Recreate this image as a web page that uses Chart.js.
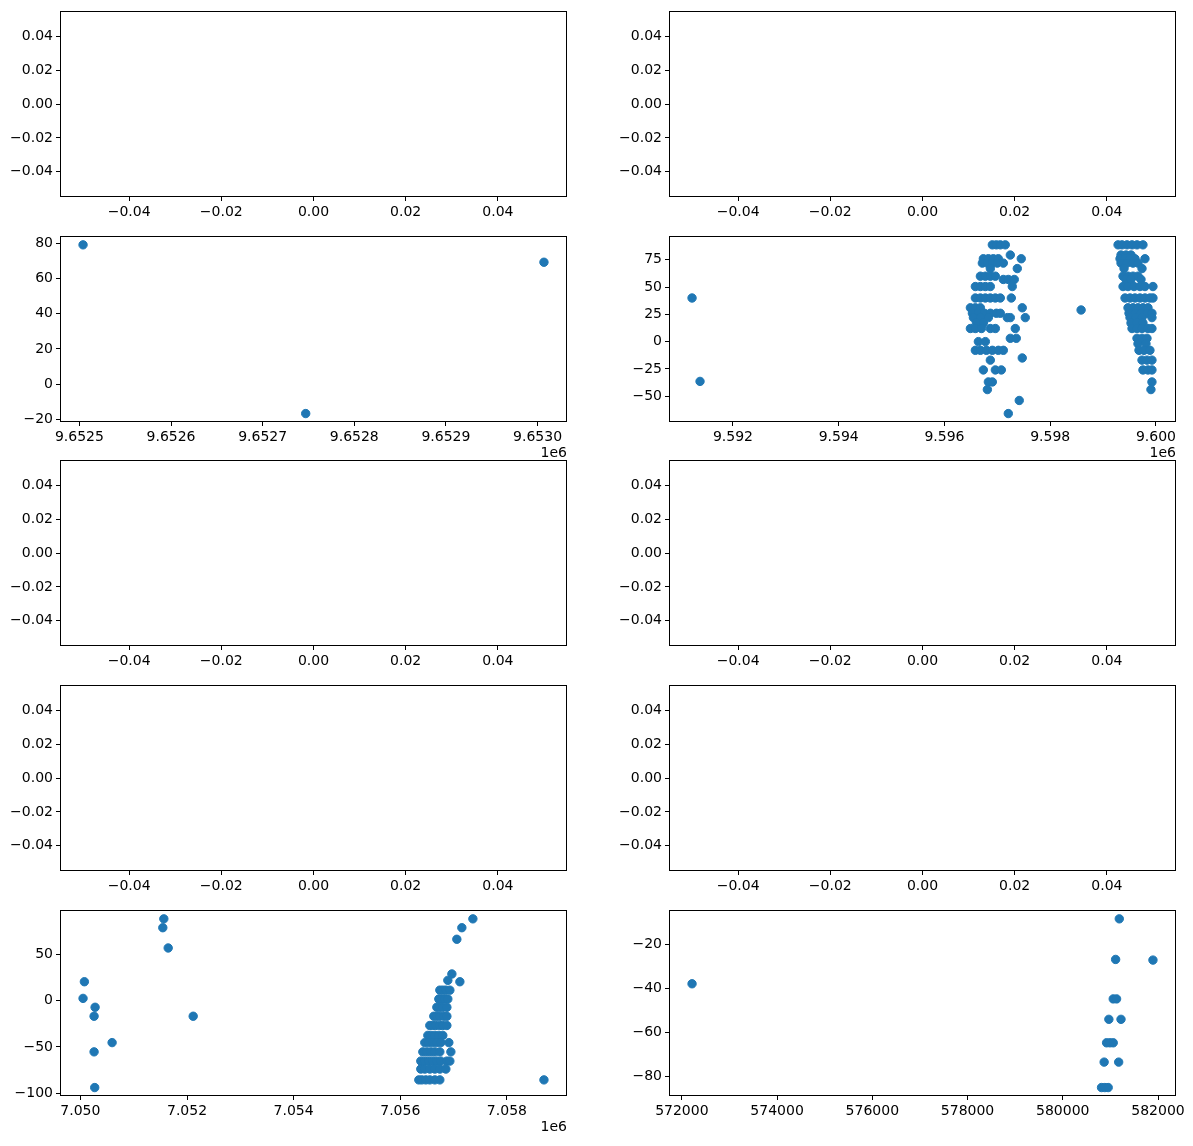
<!DOCTYPE html>
<html><head><meta charset="utf-8">
<script src="https://cdn.jsdelivr.net/npm/chart.js@4.4.0/dist/chart.umd.min.js"></script>
<style>
html,body{margin:0;padding:0;background:#fff;}
#fig{position:relative;width:1193px;height:1146px;overflow:hidden;background:#fff;}
canvas{position:absolute;}
</style></head><body><div id="fig"></div>
<script>
// ---------- data ----------
const emptyTicks = [-0.04, -0.02, 0, 0.02, 0.04];
const emptyLimits = [-0.055, 0.055];

// row 2, left panel
const p3X = [9652504, 9652747, 9653007];
const p3Y = [79.2, -16.8, 69.3];
const p3XTicks = [9652500, 9652600, 9652700, 9652800, 9652900, 9653000];
const p3YTicks = [-20, 0, 20, 40, 60, 80];

// row 2, right panel: [latitude-like y, list of x]
const p4Rows = [
  [88.75, [9596906, 9596982, 9597057, 9597151, 9599284, 9599359, 9599453, 9599548, 9599642, 9599755]],
  [79.4, [9597246, 9599340, 9599435, 9599529]],
  [76, [9596736, 9596831, 9596925, 9597019, 9597453, 9599321, 9599416, 9599510, 9599604, 9599793]],
  [72, [9596717, 9596812, 9596906, 9597000, 9597114, 9599340, 9599453, 9599567, 9599661]],
  [67, [9596868, 9597378, 9599397, 9599737]],
  [60, [9596680, 9596774, 9596868, 9596963, 9599378, 9599472, 9599567, 9599661]],
  [57, [9597114, 9597208, 9597321, 9599435, 9599529, 9599718]],
  [50.5, [9596585, 9596680, 9596774, 9596868, 9597283, 9599378, 9599472, 9599586, 9599699, 9599793, 9599944]],
  [40, [9596585, 9596680, 9596774, 9596868, 9596963, 9597057, 9597265, 9599416, 9599510, 9599604, 9599699, 9599793, 9599887, 9599944]],
  [31, [9596491, 9596585, 9596680, 9597472, 9599472, 9599567, 9599661, 9599755, 9599850]],
  [26, [9596529, 9596642, 9596755, 9596868, 9596982, 9597057, 9599491, 9599604, 9599718, 9599831, 9599925]],
  [22, [9596548, 9596680, 9596831, 9597189, 9597246, 9597529, 9599510, 9599623, 9599737, 9599925]],
  [17, [9596604, 9596736, 9599529, 9599642, 9599755]],
  [12, [9596491, 9596585, 9596699, 9596868, 9596963, 9597340, 9599548, 9599642, 9599737, 9599850, 9599925]],
  [3, [9597246, 9597359, 9599642, 9599737, 9599831]],
  [0, [9596642, 9596774]],
  [-2, [9599661, 9599812]],
  [-8, [9596585, 9596680, 9596793, 9596906, 9597019, 9597114, 9599680, 9599774, 9599887]],
  [-15, [9597472]],
  [-17, [9596868, 9599737, 9599831, 9599925]],
  [-26, [9596736, 9596963, 9597076, 9599755, 9599850, 9599925]],
  [-37, [9596831, 9596906, 9599925]],
  [-44, [9596812, 9599906]],
  [-54, [9597415]],
  [-66, [9597208]]
];
const p4ExtraX = [9591226, 9591377, 9598585];
const p4ExtraY = [40, -36.5, 29];
const p4XTicks = [9592000, 9594000, 9596000, 9598000, 9600000];
const p4YTicks = [-50, -25, 0, 25, 50, 75];

// row 5, left panel
const p9Rows = [
  [88.5, [7051565, 7057362]],
  [78.9, [7051546, 7057155]],
  [66.4, [7057061]],
  [57, [7051647]],
  [28.9, [7056968]],
  [22, [7056892]],
  [20.5, [7050075, 7057118]],
  [11.4, [7056742, 7056798, 7056855, 7056930]],
  [2.5, [7050050]],
  [1.8, [7056723, 7056780, 7056836, 7056892]],
  [-7.1, [7050276, 7056686, 7056742, 7056798, 7056874]],
  [-16.8, [7050257, 7052116, 7056629, 7056686, 7056742, 7056817, 7056874]],
  [-26.8, [7056554, 7056611, 7056667, 7056742, 7056798, 7056874]],
  [-37.5, [7056517, 7056573, 7056648, 7056723, 7056798]],
  [-45.3, [7050595, 7056460, 7056535, 7056611, 7056686, 7056761, 7056911]],
  [-55.3, [7050257, 7056423, 7056498, 7056573, 7056648, 7056742, 7056949]],
  [-65.3, [7056385, 7056460, 7056535, 7056611, 7056686, 7056761, 7056874, 7056930]],
  [-73.9, [7056385, 7056460, 7056554, 7056648, 7056742, 7056855]],
  [-85.6, [7056348, 7056404, 7056479, 7056554, 7056648, 7056742, 7058695]],
  [-93.9, [7050269]]
];
const p9XTicks = [7050000, 7052000, 7054000, 7056000, 7058000];
const p9YTicks = [-100, -50, 0, 50];

// row 5, right panel
const p10X = [581187, 581110, 581894, 572214, 581060, 581130, 580968, 581223, 580920, 580990, 581060, 580869, 581174, 580814, 580884, 580954];
const p10Y = [-8.3, -26.8, -27.1, -37.9, -44.8, -44.8, -54.1, -54.1, -64.8, -64.8, -64.8, -73.6, -73.6, -85.2, -85.2, -85.2];
const p10XTicks = [572000, 574000, 576000, 578000, 580000, 582000];
const p10YTicks = [-80, -60, -40, -20];

const offsetLabel = '1e6';

// ---------- helpers ----------
const BLUE = '#1f77b4';
const FONT = {family: 'DejaVu Sans', size: 14};
const COL_LEFT = [60, 669];
const ROW_TOP = [10, 235, 459, 684, 909];
const AX_W = 507, AX_H = 187;
const PAD_L = 60, PAD_T = 10, PAD_R = 25, PAD_B = 50;

const minus = s => String(s).replace('-', '\u2212');
const pairs = (xs, ys) => xs.map((x, i) => ({x: x, y: ys[i]}));
const fromRows = rows => rows.flatMap(r => r[1].map(x => ({x: x, y: r[0]})));
function autoLim(vals) {
  const mn = Math.min(...vals), mx = Math.max(...vals), r = mx - mn;
  return [mn - 0.05 * r, mx + 0.05 * r];
}

const spinePlugin = {
  id: 'spines',
  afterDraw(chart, args, opts) {
    const ca = chart.chartArea, ctx = chart.ctx;
    ctx.save();
    ctx.strokeStyle = '#000';
    ctx.lineWidth = 1;
    ctx.strokeRect(Math.round(ca.left) + 0.5, Math.round(ca.top) + 0.5,
      Math.round(ca.right) - Math.round(ca.left) - 1, Math.round(ca.bottom) - Math.round(ca.top) - 1);
    if (opts && opts.offset) {
      ctx.fillStyle = '#000';
      ctx.font = '14px "DejaVu Sans"';
      ctx.textAlign = 'right';
      ctx.textBaseline = 'middle';
      ctx.fillText(opts.offset, ca.right, ca.bottom + 31);
    }
    ctx.restore();
  }
};

function axisOpts(axis, lim, ticks, fmt) {
  return {
    type: 'linear', position: axis === 'x' ? 'bottom' : 'left',
    min: lim[0], max: lim[1],
    grid: {display: true, drawOnChartArea: false, drawTicks: true, tickLength: 4, tickColor: '#000', tickWidth: 1},
    border: {display: false},
    ticks: {color: '#000', font: FONT, padding: 3, maxRotation: 0, autoSkip: false,
      callback: v => fmt(v)},
    afterBuildTicks: s => { s.ticks = ticks.map(v => ({value: v})); },
    afterFit: s => { if (axis === 'x') s.height = PAD_B; else s.width = PAD_L; }
  };
}

const fig = document.getElementById('fig');
function makePanel(col, row, cfg) {
  const cv = document.createElement('canvas');
  const W = AX_W + PAD_L + PAD_R, H = AX_H + PAD_T + PAD_B;
  cv.width = W; cv.height = H;
  cv.style.width = W + 'px'; cv.style.height = H + 'px';
  cv.style.left = (COL_LEFT[col] - PAD_L) + 'px';
  cv.style.top = (ROW_TOP[row] - PAD_T) + 'px';
  fig.appendChild(cv);
  new Chart(cv.getContext('2d'), {
    type: 'scatter',
    data: {datasets: [{data: cfg.points, backgroundColor: BLUE, borderColor: BLUE,
      pointRadius: 4.2, pointHoverRadius: 4.2, borderWidth: 1, clip: false}]},
    options: {
      responsive: false, animation: false, devicePixelRatio: 1, events: [],
      layout: {padding: {left: 0, top: PAD_T, right: PAD_R, bottom: 0}},
      plugins: {legend: {display: false}, tooltip: {enabled: false}, spines: {offset: cfg.offset || ''}},
      scales: {
        x: axisOpts('x', cfg.xLim, cfg.xTicks, cfg.xFmt),
        y: axisOpts('y', cfg.yLim, cfg.yTicks, cfg.yFmt)
      }
    },
    plugins: [spinePlugin]
  });
}

const fmtEmpty = v => minus(v.toFixed(2));
const fmtInt = v => minus(String(Math.round(v)));
const emptyCfg = () => ({points: [], xLim: emptyLimits, yLim: emptyLimits,
  xTicks: emptyTicks, yTicks: emptyTicks, xFmt: fmtEmpty, yFmt: fmtEmpty});

// row 1
makePanel(0, 0, emptyCfg());
makePanel(1, 0, emptyCfg());
// row 2
const p3Pts = pairs(p3X, p3Y);
makePanel(0, 1, {points: p3Pts, xLim: autoLim(p3X), yLim: autoLim(p3Y),
  xTicks: p3XTicks, yTicks: p3YTicks, xFmt: v => (v / 1e6).toFixed(4), yFmt: fmtInt, offset: offsetLabel});
const p4Pts = fromRows(p4Rows).concat(pairs(p4ExtraX, p4ExtraY));
makePanel(1, 1, {points: p4Pts, xLim: autoLim(p4Pts.map(p => p.x)), yLim: autoLim(p4Pts.map(p => p.y)),
  xTicks: p4XTicks, yTicks: p4YTicks, xFmt: v => (v / 1e6).toFixed(3), yFmt: fmtInt, offset: offsetLabel});
// rows 3, 4
makePanel(0, 2, emptyCfg());
makePanel(1, 2, emptyCfg());
makePanel(0, 3, emptyCfg());
makePanel(1, 3, emptyCfg());
// row 5
const p9Pts = fromRows(p9Rows);
makePanel(0, 4, {points: p9Pts, xLim: autoLim(p9Pts.map(p => p.x)), yLim: autoLim(p9Pts.map(p => p.y)),
  xTicks: p9XTicks, yTicks: p9YTicks, xFmt: v => (v / 1e6).toFixed(3), yFmt: fmtInt, offset: offsetLabel});
const p10Pts = pairs(p10X, p10Y);
makePanel(1, 4, {points: p10Pts, xLim: autoLim(p10X), yLim: autoLim(p10Y),
  xTicks: p10XTicks, yTicks: p10YTicks, xFmt: v => String(v), yFmt: fmtInt});
</script>
</body></html>
